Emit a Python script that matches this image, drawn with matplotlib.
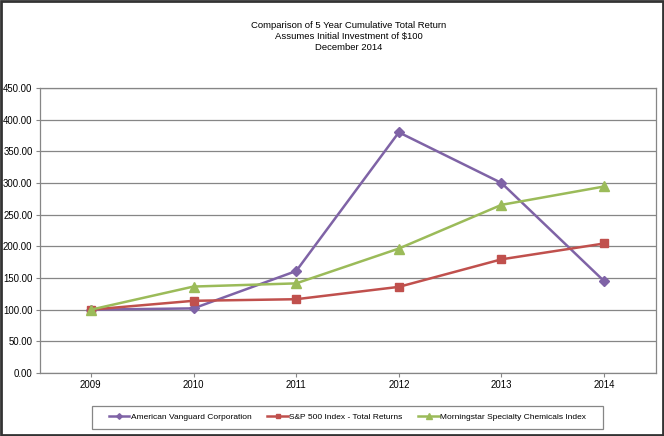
import numpy as np
import matplotlib
matplotlib.use("Agg")
import matplotlib.pyplot as plt
from matplotlib.patches import Rectangle
from matplotlib.ticker import FormatStrFormatter

plt.rcParams['font.family'] = ['Liberation Sans', 'DejaVu Sans']

years = ["2009", "2010", "2011", "2012", "2013", "2014"]
avd = [100.00, 102.00, 161.00, 380.00, 300.00, 145.00]
sp500 = [100.00, 114.00, 116.50, 136.00, 179.50, 204.50]
chem = [100.00, 136.50, 141.50, 196.50, 265.50, 294.50]

series_names = ["American Vanguard Corporation",
                "S&P 500 Index - Total Returns",
                "Morningstar Specialty Chemicals Index"]
title_lines = ["Comparison of 5 Year Cumulative Total Return",
               "Assumes Initial Investment of $100",
               "December 2014"]

W, H = 664, 436
fig = plt.figure(figsize=(W / 100, H / 100), dpi=100)
ax = fig.add_axes([39.5 / W, 1 - 373 / H, 616 / W, 285 / H])

x = np.arange(len(years))
l1, = ax.plot(x, avd, color="#7F63A6", lw=1.8, marker="D", ms=5.2, zorder=3)
l2, = ax.plot(x, sp500, color="#C0504D", lw=1.8, marker="s", ms=5.6, zorder=3)
l3, = ax.plot(x, chem, color="#9BBB59", lw=1.8, marker="^", ms=6.8, zorder=3)

ax.set_xlim(-0.5, len(years) - 0.5)
ax.set_ylim(0, 450)
ax.set_yticks(np.arange(0, 451, 50))
ax.yaxis.set_major_formatter(FormatStrFormatter("%.2f"))
ax.set_xticks(x)
ax.set_xticklabels(years)
ax.yaxis.grid(True, color="#868686", lw=0.9)
ax.set_axisbelow(True)
ax.tick_params(axis="both", labelsize=6.9, length=3, width=0.8, color="#868686", pad=2.0)
for s in ax.spines.values():
    s.set_color("#868686")
    s.set_linewidth(0.9)

for i, t in enumerate(title_lines):
    fig.text(349 / W, 1 - (25 + 11 * i) / H, t, ha="center", va="center", fontsize=6.8)

# legend box
fig.patches.append(Rectangle((92 / W, 1 - 429 / H), 511 / W, 23 / H, transform=fig.transFigure,
                             fill=False, edgecolor="#868686", lw=0.9))
fig.legend([l1, l2, l3], series_names, loc="center", bbox_to_anchor=(347.5 / W, 1 - 417.5 / H),
           ncol=3, frameon=False, fontsize=6, handlelength=2.5, handletextpad=0.15,
           columnspacing=1.9, markerscale=0.55)

# outer border
fig.patches.append(Rectangle((0.5 / W, 1.5 / H), 662 / W, 433.5 / H, transform=fig.transFigure,
                             fill=False, edgecolor="#333333", lw=2))

fig.savefig("out.png", dpi=100)
